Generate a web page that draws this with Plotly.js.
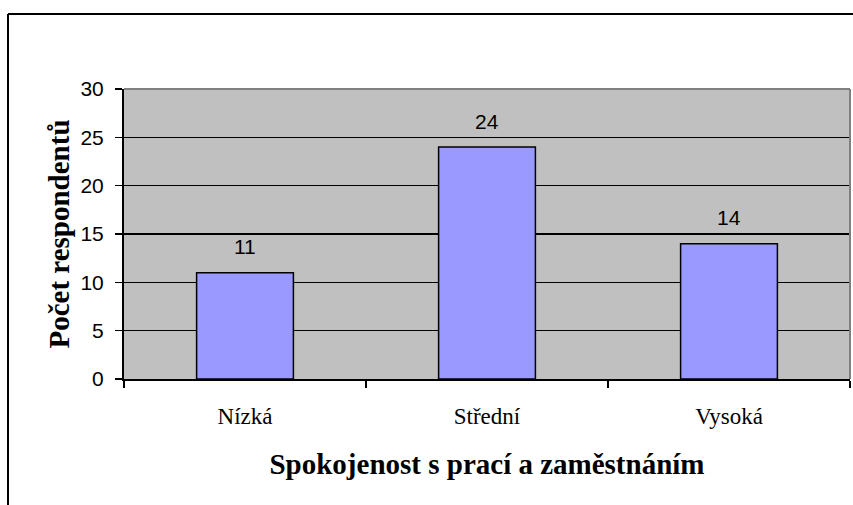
<!DOCTYPE html>
<html>
<head>
<meta charset="utf-8">
<script src="https://cdn.plot.ly/plotly-3.0.1.min.js"></script>
<style>
html,body{margin:0;padding:0;background:#fff;}
#chart{width:853px;height:505px;}
</style>
</head>
<body>
<div id="chart"></div>
<script>
const categories = ["Nízká", "Střední", "Vysoká"];
const counts = [11, 24, 14];
const yTickValues = [0, 5, 10, 15, 20, 25, 30];
const xTitle = "Spokojenost s prací a zaměstnáním";
const yTitle = "Počet respondentů";

const W = 853, H = 505;
const M = {l: 124, r: 3, t: 89, b: 126};
const pw = W - M.l - M.r, ph = H - M.t - M.b;
const px = v => (v - M.l) / pw;
const py = v => (H - M.b - v) / ph;

const trace = {
  type: "bar",
  x: categories,
  y: counts,
  marker: {color: "#9999FF", line: {color: "#000000", width: 1.5}},
  hoverinfo: "skip"
};

const annotations = categories.map((c, i) => ({
  x: c, y: counts[i], xref: "x", yref: "y",
  text: String(counts[i]), showarrow: false,
  yanchor: "middle", yshift: 26,
  font: {family: "Liberation Sans, Arial", size: 21, color: "#000"}
}));

const layout = {
  width: W, height: H,
  margin: M,
  paper_bgcolor: "#ffffff",
  plot_bgcolor: "#C0C0C0",
  showlegend: false,
  bargap: 0.6,
  xaxis: {
    type: "category",
    tickson: "boundaries",
    ticks: "outside", ticklen: 7, tickwidth: 1.5, tickcolor: "#000",
    showline: true, linecolor: "#000", linewidth: 2,
    showgrid: false, zeroline: false,
    ticklabelstandoff: 15,
    tickfont: {family: "Liberation Serif, Times New Roman", size: 23, color: "#000"},
    title: {text: xTitle, standoff: 26,
      font: {family: "Liberation Serif, Times New Roman", size: 29, color: "#000", weight: "bold"}}
  },
  yaxis: {
    range: [0, 30],
    tickvals: yTickValues,
    ticks: "outside", ticklen: 7, tickwidth: 1.5, tickcolor: "#000",
    showline: true, linecolor: "#000", linewidth: 2,
    showgrid: true, gridcolor: "#000", gridwidth: 1.5,
    zeroline: false,
    ticklabelstandoff: 7,
    tickfont: {family: "Liberation Sans, Arial", size: 21, color: "#000"},
    title: {text: yTitle, standoff: 2,
      font: {family: "Liberation Serif, Times New Roman", size: 29, color: "#000", weight: "bold"}}
  },
  annotations: annotations,
  shapes: [
    {type: "line", xref: "paper", yref: "paper", x0: 0, x1: 1, y0: 1, y1: 1,
     line: {color: "#808080", width: 2}, layer: "above"},
    {type: "line", xref: "paper", yref: "paper", x0: 1, x1: 1, y0: 0, y1: 1,
     line: {color: "#808080", width: 2}, layer: "above"},
    {type: "line", xref: "paper", yref: "paper", x0: px(8), x1: px(860), y0: py(14), y1: py(14),
     line: {color: "#000", width: 2}, layer: "above"},
    {type: "line", xref: "paper", yref: "paper", x0: px(8), x1: px(8), y0: py(14), y1: py(510),
     line: {color: "#000", width: 2}, layer: "above"}
  ]
};

Plotly.newPlot("chart", [trace], layout, {displayModeBar: false, staticPlot: true});
</script>
</body>
</html>
